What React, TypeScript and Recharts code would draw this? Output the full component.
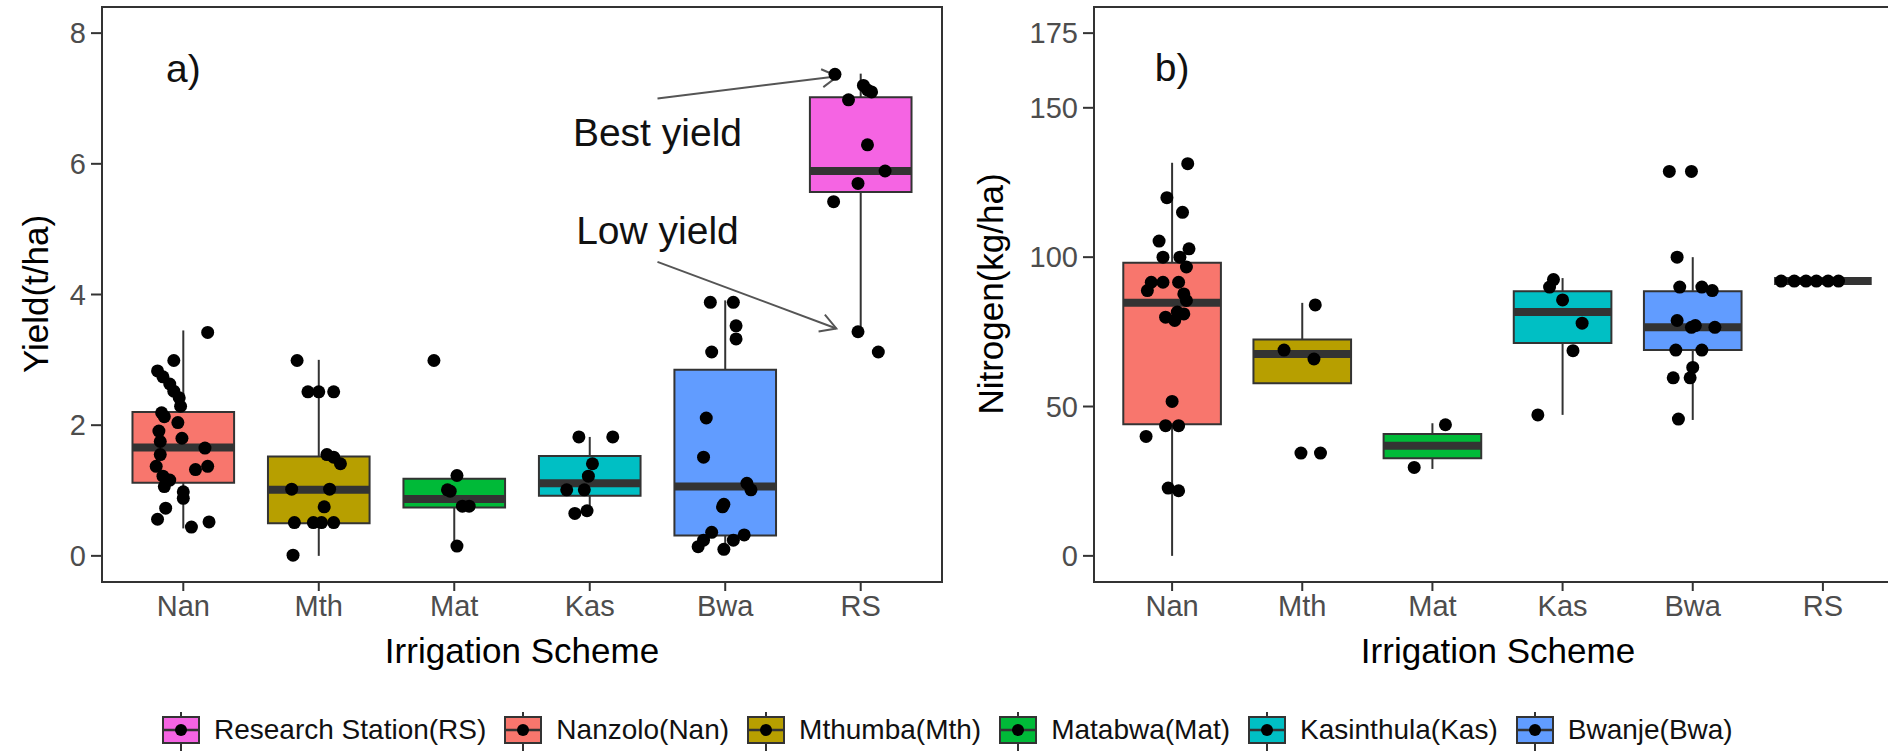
import React from 'react';
import {
  ComposedChart,
  XAxis,
  YAxis,
  Scatter,
  ReferenceArea,
  ReferenceLine,
  ReferenceDot,
} from 'recharts';

// ---------- data ----------
const categories = ['Nan', 'Mth', 'Mat', 'Kas', 'Bwa', 'RS'];
const legendLabels = [
  'Research Station(RS)',
  'Nanzolo(Nan)',
  'Mthumba(Mth)',
  'Matabwa(Mat)',
  'Kasinthula(Kas)',
  'Bwanje(Bwa)',
];
const legendOrder = [5, 0, 1, 2, 3, 4];

// Yield (t/ha) box statistics per category
const yieldQ1 = [1.12, 0.5, 0.74, 0.92, 0.31, 5.57];
const yieldMedian = [1.66, 1.01, 0.87, 1.11, 1.06, 5.89];
const yieldQ3 = [2.2, 1.52, 1.18, 1.53, 2.85, 7.02];
const yieldLow = [0.42, 0.0, 0.15, 0.65, 0.1, 3.43];
const yieldHigh = [3.45, 3.0, 1.23, 1.82, 3.91, 7.38];
const yieldTicks = [0, 2, 4, 6, 8];

type Pt = { x: number; y: number };

const yieldNan: Pt[] = [
  { x: 1.18, y: 3.42 }, { x: 0.93, y: 2.99 }, { x: 0.81, y: 2.83 }, { x: 0.85, y: 2.74 },
  { x: 0.9, y: 2.63 }, { x: 0.93, y: 2.52 }, { x: 0.97, y: 2.42 }, { x: 0.98, y: 2.29 },
  { x: 0.84, y: 2.19 }, { x: 0.86, y: 2.13 }, { x: 0.96, y: 2.04 }, { x: 0.82, y: 1.91 },
  { x: 0.99, y: 1.8 }, { x: 0.83, y: 1.75 }, { x: 1.16, y: 1.65 }, { x: 0.83, y: 1.55 },
  { x: 0.8, y: 1.37 }, { x: 1.18, y: 1.37 }, { x: 1.09, y: 1.32 }, { x: 0.85, y: 1.22 },
  { x: 0.9, y: 1.16 }, { x: 0.86, y: 1.06 }, { x: 1.0, y: 0.98 }, { x: 1.0, y: 0.88 },
  { x: 0.87, y: 0.73 }, { x: 0.81, y: 0.56 }, { x: 1.19, y: 0.52 }, { x: 1.06, y: 0.44 },
];
const yieldMth: Pt[] = [
  { x: 1.84, y: 2.99 }, { x: 1.92, y: 2.51 }, { x: 2.0, y: 2.51 }, { x: 2.11, y: 2.51 },
  { x: 2.06, y: 1.55 }, { x: 2.11, y: 1.51 }, { x: 2.16, y: 1.41 }, { x: 1.8, y: 1.02 },
  { x: 2.08, y: 1.02 }, { x: 2.04, y: 0.75 }, { x: 1.82, y: 0.51 }, { x: 1.96, y: 0.51 },
  { x: 2.02, y: 0.51 }, { x: 2.11, y: 0.51 }, { x: 1.81, y: 0.01 },
];
const yieldMat: Pt[] = [
  { x: 2.85, y: 2.99 }, { x: 3.02, y: 1.23 }, { x: 2.95, y: 1.01 }, { x: 2.97, y: 0.99 },
  { x: 3.06, y: 0.76 }, { x: 3.11, y: 0.76 }, { x: 3.02, y: 0.15 },
];
const yieldKas: Pt[] = [
  { x: 3.92, y: 1.82 }, { x: 4.17, y: 1.82 }, { x: 4.02, y: 1.41 }, { x: 3.99, y: 1.22 },
  { x: 3.83, y: 1.01 }, { x: 3.96, y: 1.01 }, { x: 3.89, y: 0.65 }, { x: 3.98, y: 0.69 },
];
const yieldBwa: Pt[] = [
  { x: 4.89, y: 3.88 }, { x: 5.06, y: 3.88 }, { x: 5.08, y: 3.52 }, { x: 5.08, y: 3.32 },
  { x: 4.9, y: 3.12 }, { x: 4.86, y: 2.11 }, { x: 4.84, y: 1.51 }, { x: 5.16, y: 1.11 },
  { x: 5.19, y: 1.01 }, { x: 4.99, y: 0.79 }, { x: 4.98, y: 0.75 }, { x: 4.9, y: 0.36 },
  { x: 4.84, y: 0.24 }, { x: 4.8, y: 0.14 }, { x: 4.99, y: 0.1 }, { x: 5.06, y: 0.24 },
  { x: 5.14, y: 0.32 },
];
const yieldRS: Pt[] = [
  { x: 5.81, y: 7.37 }, { x: 6.02, y: 7.2 }, { x: 6.05, y: 7.13 }, { x: 6.08, y: 7.1 },
  { x: 5.91, y: 6.98 }, { x: 6.05, y: 6.29 }, { x: 6.18, y: 5.89 }, { x: 5.98, y: 5.7 },
  { x: 5.8, y: 5.42 }, { x: 5.98, y: 3.43 }, { x: 6.13, y: 3.12 },
];

// Nitrogen (kg/ha) box statistics per category
const nitroQ1 = [44.1, 57.8, 32.7, 71.3, 68.9, 92];
const nitroMedian = [84.7, 67.6, 36.9, 81.6, 76.5, 92];
const nitroQ3 = [98.1, 72.4, 40.8, 88.6, 88.6, 92];
const nitroLow = [0, 57.8, 29.1, 47.2, 45.5, 92];
const nitroHigh = [131.6, 84.7, 44.4, 93.0, 100, 92];
const nitroTicks = [0, 50, 100, 150, 175];

const nitroNan: Pt[] = [
  { x: 1.12, y: 131.3 }, { x: 0.96, y: 119.9 }, { x: 1.08, y: 115.0 }, { x: 0.9, y: 105.4 },
  { x: 1.13, y: 102.8 }, { x: 0.93, y: 100 }, { x: 1.06, y: 100 }, { x: 1.11, y: 96.7 },
  { x: 0.84, y: 91.6 }, { x: 0.93, y: 91.6 }, { x: 1.05, y: 91.6 }, { x: 0.81, y: 88.8 },
  { x: 1.09, y: 87.7 }, { x: 1.11, y: 85.5 }, { x: 1.04, y: 81.6 }, { x: 1.09, y: 81.0 },
  { x: 0.95, y: 79.9 }, { x: 1.02, y: 78.8 }, { x: 1.0, y: 51.7 }, { x: 0.95, y: 43.6 },
  { x: 1.05, y: 43.6 }, { x: 0.8, y: 40.0 }, { x: 0.97, y: 22.7 }, { x: 1.05, y: 21.8 },
];
const nitroMth: Pt[] = [
  { x: 2.1, y: 84.0 }, { x: 1.86, y: 68.9 }, { x: 2.09, y: 65.9 }, { x: 1.99, y: 34.4 },
  { x: 2.14, y: 34.4 },
];
const nitroMat: Pt[] = [{ x: 3.1, y: 43.9 }, { x: 2.86, y: 29.6 }];
const nitroKas: Pt[] = [
  { x: 3.93, y: 92.5 }, { x: 3.9, y: 90 }, { x: 4.0, y: 85.7 }, { x: 4.15, y: 77.9 },
  { x: 4.08, y: 68.7 }, { x: 3.81, y: 47.2 },
];
const nitroBwa: Pt[] = [
  { x: 4.82, y: 128.7 }, { x: 4.99, y: 128.7 }, { x: 4.88, y: 100 }, { x: 4.9, y: 90 },
  { x: 5.07, y: 90 }, { x: 5.15, y: 88.8 }, { x: 4.88, y: 78.8 }, { x: 5.02, y: 77.1 },
  { x: 5.17, y: 76.5 }, { x: 4.99, y: 76.5 }, { x: 4.87, y: 68.9 }, { x: 5.07, y: 68.9 },
  { x: 5.0, y: 63.1 }, { x: 4.85, y: 59.6 }, { x: 4.98, y: 59.6 }, { x: 4.89, y: 45.8 },
];
const nitroRS: Pt[] = [
  { x: 5.68, y: 92 }, { x: 5.78, y: 92 }, { x: 5.87, y: 92 }, { x: 5.95, y: 92 },
  { x: 6.04, y: 92 }, { x: 6.12, y: 92 },
];

// ---------- styles ----------
const FONT = "'Liberation Sans', Arial, Helvetica, sans-serif";
const fillColors = ['#F8766D', '#B79F00', '#00BA38', '#00BFC4', '#619CFF', '#F564E3'];
const DARK = '#333333';
const BOX_HALF = 0.375;

const tickStyle = { fill: '#4D4D4D', fontSize: 29, fontFamily: FONT };
const lineStyle = { stroke: DARK, strokeWidth: 2 };

const dotShape = (p: any) => <circle cx={p.cx} cy={p.cy} r={6.5} fill="#000" />;

const arrowShape = (p: any) => {
  const { x1, y1, x2, y2 } = p;
  const ang = Math.atan2(y2 - y1, x2 - x1);
  const L = 18;
  const a = Math.PI / 6;
  const ax1 = x2 - L * Math.cos(ang - a);
  const ay1 = y2 - L * Math.sin(ang - a);
  const ax2 = x2 - L * Math.cos(ang + a);
  const ay2 = y2 - L * Math.sin(ang + a);
  return (
    <g>
      <line x1={x1} y1={y1} x2={x2} y2={y2} stroke="#555" strokeWidth={2} />
      <polyline
        points={`${ax1},${ay1} ${x2},${y2} ${ax2},${ay2}`}
        fill="none"
        stroke="#555"
        strokeWidth={2}
      />
    </g>
  );
};

const textShape = (label: string) => (p: any) => (
  <text x={p.cx} y={p.cy} textAnchor="middle" fontSize={39} fontFamily={FONT} fill="#111">
    {label}
  </text>
);

function boxElements(
  prefix: string,
  q1: number[],
  med: number[],
  q3: number[],
  lo: number[],
  hi: number[]
) {
  const els: React.ReactElement[] = [];
  categories.forEach((_, i) => {
    const c = i + 1;
    if (hi[i] > q3[i]) {
      els.push(
        <ReferenceLine
          key={`${prefix}-wh-${i}`}
          segment={[{ x: c, y: q3[i] }, { x: c, y: hi[i] }]}
          stroke={DARK}
          strokeWidth={2}
        />
      );
    }
    if (lo[i] < q1[i]) {
      els.push(
        <ReferenceLine
          key={`${prefix}-wl-${i}`}
          segment={[{ x: c, y: lo[i] }, { x: c, y: q1[i] }]}
          stroke={DARK}
          strokeWidth={2}
        />
      );
    }
    if (q3[i] > q1[i]) {
      els.push(
        <ReferenceArea
          key={`${prefix}-box-${i}`}
          x1={c - BOX_HALF}
          x2={c + BOX_HALF}
          y1={q1[i]}
          y2={q3[i]}
          fill={fillColors[i]}
          fillOpacity={1}
          stroke={DARK}
          strokeWidth={2}
        />
      );
    }
    els.push(
      <ReferenceLine
        key={`${prefix}-med-${i}`}
        segment={[{ x: c - BOX_HALF, y: med[i] }, { x: c + BOX_HALF, y: med[i] }]}
        stroke={DARK}
        strokeWidth={8}
      />
    );
  });
  return els;
}

function Panel(props: {
  width: number;
  yAxisWidth: number;
  yDomain: [number, number];
  yTicks: number[];
  q1: number[];
  med: number[];
  q3: number[];
  lo: number[];
  hi: number[];
  points: Pt[];
  extras: React.ReactElement[];
  prefix: string;
}) {
  const { width, yAxisWidth, yDomain, yTicks, points, prefix } = props;
  return (
    <ComposedChart
      width={width}
      height={680}
      margin={{ top: 7, right: 18, bottom: 0, left: 0 }}
      data={points}
    >
      <XAxis
        type="number"
        dataKey="x"
        domain={[0.4, 6.6]}
        ticks={[1, 2, 3, 4, 5, 6]}
        interval={0}
        allowDataOverflow
        tickFormatter={(v: number) => categories[Math.round(v) - 1]}
        height={98}
        tickSize={9}
        tickMargin={4}
        tick={tickStyle}
        tickLine={lineStyle}
        axisLine={lineStyle}
      />
      <YAxis
        type="number"
        dataKey="y"
        domain={yDomain}
        ticks={yTicks}
        interval={0}
        allowDataOverflow
        width={yAxisWidth}
        tickSize={11}
        tickMargin={5}
        tick={tickStyle}
        tickLine={lineStyle}
        axisLine={lineStyle}
      />
      <ReferenceArea
        x1={0.4}
        x2={6.6}
        y1={yDomain[0]}
        y2={yDomain[1]}
        fill="none"
        fillOpacity={0}
        stroke={DARK}
        strokeWidth={2}
      />
      {boxElements(prefix, props.q1, props.med, props.q3, props.lo, props.hi)}
      {props.extras}
      <Scatter data={points} dataKey="y" isAnimationActive={false} shape={dotShape} />
    </ComposedChart>
  );
}

const yieldPoints: Pt[] = [...yieldNan, ...yieldMth, ...yieldMat, ...yieldKas, ...yieldBwa, ...yieldRS];
const nitroPoints: Pt[] = [...nitroNan, ...nitroMth, ...nitroMat, ...nitroKas, ...nitroBwa, ...nitroRS];

const yieldExtras = [
  <ReferenceDot key="ta" x={1} y={7.25} r={0} shape={textShape('a)')} />,
  <ReferenceDot key="tb" x={4.5} y={6.28} r={0} shape={textShape('Best yield')} />,
  <ReferenceDot key="tl" x={4.5} y={4.78} r={0} shape={textShape('Low yield')} />,
  <ReferenceLine key="ab" segment={[{ x: 4.5, y: 7.0 }, { x: 5.83, y: 7.34 }]} shape={arrowShape} />,
  <ReferenceLine key="al" segment={[{ x: 4.5, y: 4.5 }, { x: 5.82, y: 3.48 }]} shape={arrowShape} />,
];
const nitroExtras = [
  <ReferenceDot key="tbb" x={1} y={159} r={0} shape={textShape('b)')} />,
];

const titleStyle: React.CSSProperties = {
  position: 'absolute',
  fontSize: 35,
  lineHeight: 1,
  fontFamily: FONT,
  color: '#000',
  whiteSpace: 'nowrap',
};

export default function App() {
  return (
    <div
      style={{
        position: 'absolute',
        left: 0,
        top: 0,
        width: 1888,
        height: 751,
        overflow: 'hidden',
        background: '#fff',
        fontFamily: FONT,
      }}
    >
      <div style={{ position: 'absolute', left: 0, top: 0 }}>
        <Panel
          prefix="y"
          width={960}
          yAxisWidth={102}
          yDomain={[-0.4, 8.4]}
          yTicks={yieldTicks}
          q1={yieldQ1}
          med={yieldMedian}
          q3={yieldQ3}
          lo={yieldLow}
          hi={yieldHigh}
          points={yieldPoints}
          extras={yieldExtras}
        />
      </div>
      <div style={{ position: 'absolute', left: 960, top: 0 }}>
        <Panel
          prefix="n"
          width={959}
          yAxisWidth={134}
          yDomain={[-8.75, 183.75]}
          yTicks={nitroTicks}
          q1={nitroQ1}
          med={nitroMedian}
          q3={nitroQ3}
          lo={nitroLow}
          hi={nitroHigh}
          points={nitroPoints}
          extras={nitroExtras}
        />
      </div>

      {/* axis titles */}
      <div style={{ ...titleStyle, left: 35, top: 294, transform: 'translate(-50%, -50%) rotate(-90deg)' }}>
        Yield(t/ha)
      </div>
      <div style={{ ...titleStyle, left: 990, top: 294, transform: 'translate(-50%, -50%) rotate(-90deg)' }}>
        Nitrogen(kg/ha)
      </div>
      <div style={{ ...titleStyle, left: 522, top: 650, transform: 'translate(-50%, -50%)' }}>
        Irrigation Scheme
      </div>
      <div style={{ ...titleStyle, left: 1498, top: 650, transform: 'translate(-50%, -50%)' }}>
        Irrigation Scheme
      </div>

      {/* legend */}
      <div
        style={{
          position: 'absolute',
          left: 162,
          top: 700,
          height: 60,
          display: 'flex',
          alignItems: 'center',
          gap: 18,
        }}
      >
        {legendOrder.map((ci, k) => (
          <div key={k} style={{ display: 'flex', alignItems: 'center', height: 60 }}>
            <svg width={38} height={60} style={{ display: 'block' }}>
              <line x1={19} y1={12} x2={19} y2={60} stroke={DARK} strokeWidth={2} />
              <rect x={1} y={17} width={36} height={26} fill={fillColors[ci]} stroke={DARK} strokeWidth={2} />
              <line x1={1} y1={30} x2={37} y2={30} stroke={DARK} strokeWidth={2.5} />
              <circle cx={19} cy={30} r={6} fill="#000" />
            </svg>
            <span style={{ fontSize: 28, lineHeight: '60px', color: '#111', marginLeft: 14, whiteSpace: 'nowrap' }}>
              {legendLabels[k]}
            </span>
          </div>
        ))}
      </div>
    </div>
  );
}
